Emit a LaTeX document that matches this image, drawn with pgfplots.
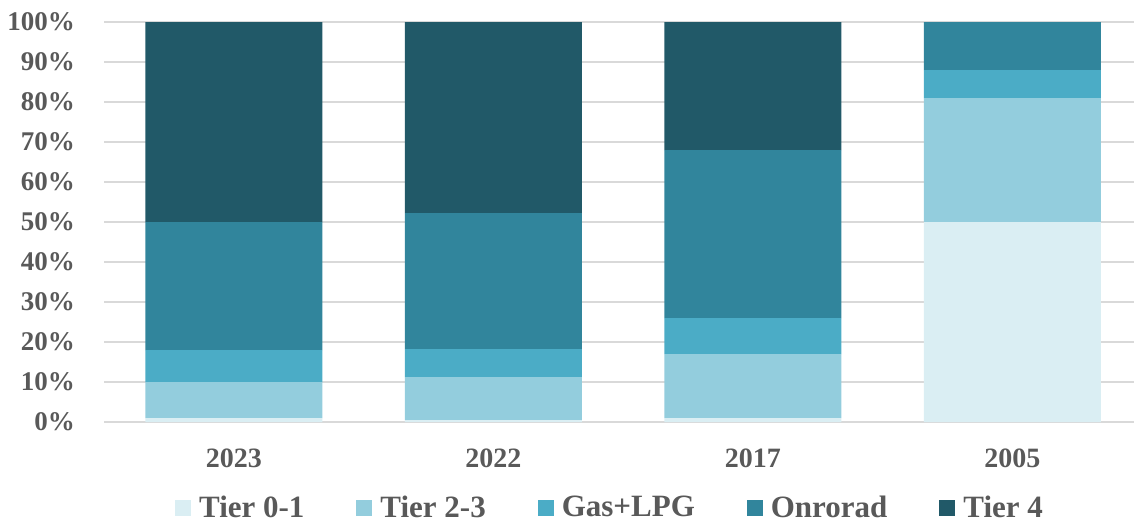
\documentclass[border=0pt]{standalone}
\usepackage{pgfplots}
\pgfplotsset{compat=1.18}
\usepackage{fontspec}
\setmainfont{Liberation Serif}
\definecolor{tA}{HTML}{DAEEF3}
\definecolor{tB}{HTML}{93CDDD}
\definecolor{tC}{HTML}{4BACC6}
\definecolor{tD}{HTML}{31859C}
\definecolor{tE}{HTML}{215968}
\definecolor{lbl}{HTML}{595959}
\definecolor{grd}{HTML}{D9D9D9}
\pgfplotstableread{
x  t01  t23  gas  onr  t4
0  1    9    8    32   50
1  0.5  10.7 7    34   47.8
2  1    16   9    42   32
3  50   31   7    12   0
}\datatable
\begin{document}
\begin{tikzpicture}
\useasboundingbox (0,0) rectangle (567pt,263.5pt);
\begin{axis}[
  at={(52pt,52.5pt)}, anchor=south west,
  scale only axis, width=519pt, height=200pt,
  ybar stacked, bar width=88.5pt,
  xmin=-0.5, xmax=3.5, ymin=0, ymax=100,
  xtick={0,1,2,3}, xticklabels={2023,2022,2017,2005},
  ytick={0,10,...,100},
  yticklabel={\pgfmathprintnumber{\tick}\%},
  /pgf/number format/assume math mode=true,
  ymajorgrids, grid style={grd, line width=0.6pt},
  axis line style={draw=none},
  major tick length=0pt,
  tick label style={font=\bfseries\fontsize{13.5}{15}\selectfont, text=lbl},
  xticklabel style={font=\bfseries\fontsize{14}{16}\selectfont, yshift=-10pt},
  yticklabel style={xshift=-11pt},
  legend style={at={(0.4875,-0.215)}, anchor=center, draw=none,
    font=\bfseries\fontsize{15.5}{17}\selectfont, text=lbl,
    legend columns=5, inner sep=0pt,
    nodes={inner sep=1pt},
    /tikz/every odd column/.append style={column sep=3pt},
    /tikz/every even column/.append style={column sep=25pt}},
  legend image code/.code={\fill[#1] (0pt,-4pt) rectangle (8pt,4pt);},
  every axis plot/.append style={draw=none},
]
\addplot[fill=tA] table[x=x,y=t01]{\datatable};
\addplot[fill=tB] table[x=x,y=t23]{\datatable};
\addplot[fill=tC] table[x=x,y=gas]{\datatable};
\addplot[fill=tD] table[x=x,y=onr]{\datatable};
\addplot[fill=tE] table[x=x,y=t4]{\datatable};
\legend{Tier 0-1, Tier 2-3, Gas+LPG, Onrorad, Tier 4}
\end{axis}
\end{tikzpicture}
\end{document}
